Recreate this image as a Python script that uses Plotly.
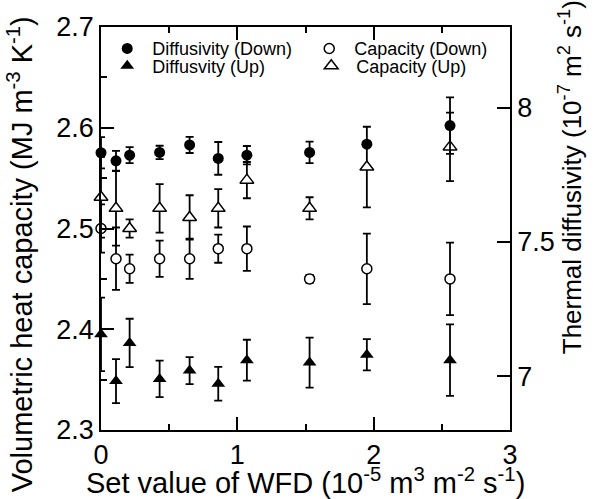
import plotly.graph_objects as go

# ---- data ----
wfd = [0, 0.11, 0.21, 0.43, 0.65, 0.86, 1.07, 1.53, 1.95, 2.56]

diff_down = [7.832, 7.802, 7.823, 7.833, 7.861, 7.811, 7.823, 7.833, 7.864, 7.933]
diff_down_err = [0.058, 0.037, 0.030, 0.025, 0.030, 0.061, 0.034, 0.040, 0.010, 0.105]

cap_down = [2.500, 2.470, 2.460, 2.470, 2.470, 2.480, 2.480, 2.450, 2.460, 2.450]
cap_down_err = [0.024, 0.031, 0.014, 0.018, 0.020, 0.014, 0.022, 0.004, 0.035, 0.036]

diff_up = [7.156, 6.982, 7.124, 6.990, 7.021, 6.972, 7.060, 7.051, 7.080, 7.060]
diff_up_err = [0.137, 0.082, 0.090, 0.068, 0.050, 0.063, 0.076, 0.093, 0.058, 0.133]

cap_up = [2.531, 2.520, 2.500, 2.520, 2.511, 2.520, 2.548, 2.520, 2.561, 2.581]
cap_up_err = [0.040, 0.037, 0.009, 0.024, 0.022, 0.019, 0.018, 0.011, 0.040, 0.034]

x_ticks = [0, 1, 2, 3]
left_ticks = [2.3, 2.4, 2.5, 2.6, 2.7]
left_ticktext = ["2.3", "2.4", "2.5", "2.6", "2.7"]
right_ticks = [7, 7.5, 8]
right_ticktext = ["7", "7.5", "8"]

FONT = "Liberation Sans, Arial, sans-serif"


def err(vals):
    return dict(type="data", array=vals, visible=True, color="black",
                thickness=1.8, width=4)


fig = go.Figure()
fig.add_trace(go.Scatter(
    x=wfd, y=diff_down, yaxis="y2", mode="markers", name="Diffusivity (Down)",
    legend="legend",
    marker=dict(symbol="circle", size=11, color="black"),
    error_y=err(diff_down_err), cliponaxis=False))
fig.add_trace(go.Scatter(
    x=wfd, y=cap_down, mode="markers", name="Capacity (Down)",
    legend="legend",
    marker=dict(symbol="circle", size=10, color="white",
                line=dict(color="black", width=1.5)),
    error_y=err(cap_down_err), cliponaxis=False))
fig.add_trace(go.Scatter(
    x=wfd, y=diff_up, yaxis="y2", mode="markers", name="Diffusvity (Up)",
    legend="legend2",
    marker=dict(symbol="triangle-up", size=12, color="black"),
    error_y=err(diff_up_err), cliponaxis=False))
fig.add_trace(go.Scatter(
    x=wfd, y=cap_up, mode="markers", name="Capacity (Up)",
    legend="legend2",
    marker=dict(symbol="triangle-up", size=12, color="white",
                line=dict(color="black", width=1.5)),
    error_y=err(cap_up_err), cliponaxis=False))

axis_common = dict(showline=True, linecolor="black", linewidth=1.8,
                   ticks="inside", ticklen=13, tickwidth=1.6, tickcolor="black",
                   showgrid=False, zeroline=False,
                   tickfont=dict(family=FONT, size=27, color="black"))

legend_common = dict(orientation="h", xanchor="left", yanchor="middle",
                     entrywidthmode="pixels", bgcolor="rgba(0,0,0,0)",
                     font=dict(family=FONT, size=18, color="black"),
                     itemwidth=40)

fig.update_layout(
    width=600, height=499,
    margin=dict(l=101, r=90, t=21, b=69),
    paper_bgcolor="white", plot_bgcolor="white",
    font=dict(family=FONT, color="black"),
    xaxis=dict(range=[0, 3], tickvals=x_ticks, ticktext=[str(v) for v in x_ticks],
               mirror="ticks",
               minor=dict(dtick=0.5, ticks="inside", ticklen=6, tickwidth=1.6,
                          tickcolor="black", showgrid=False),
               **axis_common),
    yaxis=dict(range=[2.3, 2.7], tickvals=left_ticks, ticktext=left_ticktext,
               minor=dict(dtick=0.05, ticks="inside", ticklen=6, tickwidth=1.6,
                          tickcolor="black", showgrid=False),
               **axis_common),
    yaxis2=dict(range=[6.8, 8.3], tickvals=right_ticks, ticktext=right_ticktext,
                overlaying="y", side="right", **axis_common),
    legend=dict(x=0.003, y=0.946, entrywidth=147, **legend_common),
    legend2=dict(x=0.003, y=0.903, entrywidth=149, **legend_common),
    showlegend=True,
    annotations=[
        dict(text="Set value of WFD (10<sup>-5</sup> m<sup>3</sup> m<sup>-2</sup> s<sup>-1</sup>)",
             xref="paper", yref="paper", x=0.499, y=-0.127,
             xanchor="center", yanchor="middle", showarrow=False,
             font=dict(family=FONT, size=29, color="black")),
        dict(text="Volumetric heat capacity (MJ m<sup>-3</sup> K<sup>-1</sup>)",
             xref="paper", yref="paper", x=-0.199, y=0.435, textangle=-90,
             xanchor="center", yanchor="middle", showarrow=False,
             font=dict(family=FONT, size=29, color="black")),
        dict(text="Thermal diffusivity (10<sup>-7</sup> m<sup>2</sup> s<sup>-1</sup>)",
             xref="paper", yref="paper", x=1.148, y=0.626, textangle=-90,
             xanchor="center", yanchor="middle", showarrow=False,
             font=dict(family=FONT, size=26, color="black")),
    ],
)

fig.write_html("out.html", config={"displayModeBar": False},
               post_script="document.body.style.margin='0';")
